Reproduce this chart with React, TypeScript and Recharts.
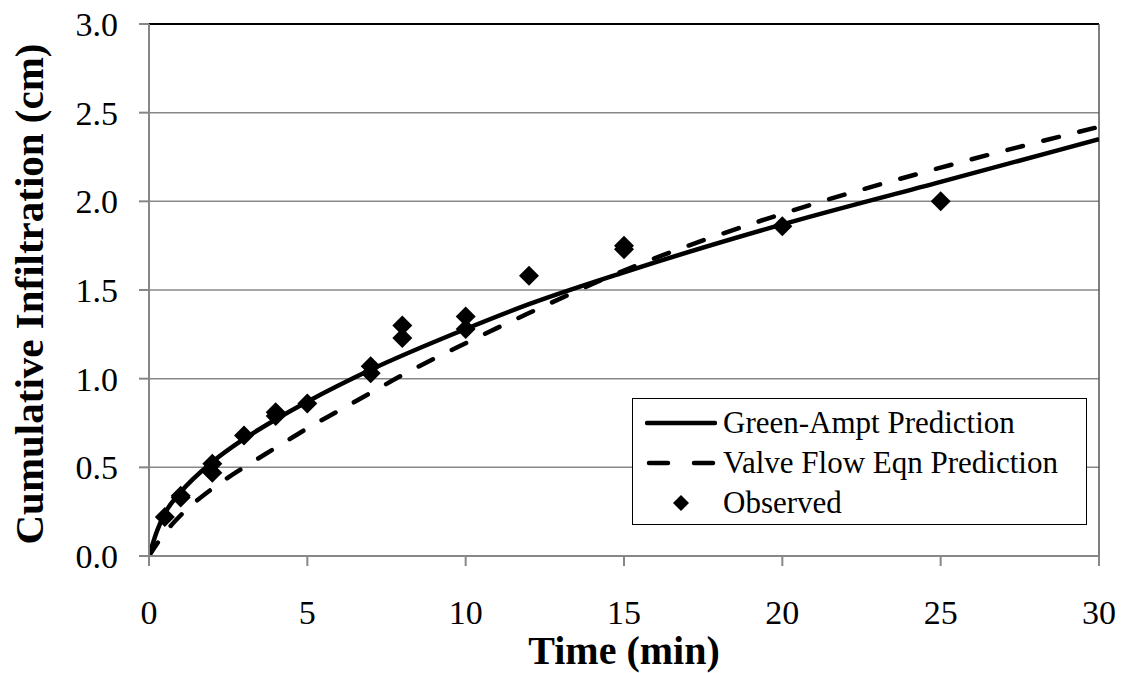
import {
  ComposedChart,
  Line,
  Scatter,
  XAxis,
  YAxis,
  CartesianGrid,
  Legend,
  ReferenceLine,
} from 'recharts';

const gaTime = [0, 0.25, 0.5, 1, 2, 3, 4, 5, 7, 10, 12, 15, 20, 25, 30];
const gaInfil = [0, 0.14, 0.24, 0.36, 0.53, 0.66, 0.77, 0.87, 1.05, 1.28, 1.42, 1.6, 1.87, 2.11, 2.35];

const vfTime = [0, 0.5, 1, 2, 3, 4, 5, 6, 7, 8, 10, 12, 15, 20, 25, 30];
const vfInfil = [0, 0.13, 0.23, 0.38, 0.5, 0.61, 0.72, 0.82, 0.92, 1.02, 1.2, 1.37, 1.61, 1.93, 2.19, 2.42];

const obsTime = [0.5, 1, 1, 2, 2, 3, 4, 4, 5, 7, 7, 8, 8, 10, 10, 12, 15, 15, 20, 25];
const obsInfil = [0.22, 0.34, 0.33, 0.52, 0.47, 0.68, 0.81, 0.79, 0.86, 1.07, 1.03, 1.3, 1.23, 1.35, 1.28, 1.58, 1.75, 1.73, 1.86, 2.0];

const xTicks = [0, 5, 10, 15, 20, 25, 30];
const yTicks = [0, 0.5, 1, 1.5, 2, 2.5, 3];

const gaData = gaTime.map((t, i) => ({ t, v: gaInfil[i] }));
const vfData = vfTime.map((t, i) => ({ t, v: vfInfil[i] }));
const obsData = obsTime.map((t, i) => ({ t, v: obsInfil[i] }));

const FONT = '"Liberation Serif", "Times New Roman", serif';
const AXIS = '#878787';
const DASH = '16 21';

function Diamond(props: any) {
  const { cx, cy } = props;
  const r = 10;
  return (
    <polygon
      points={`${cx},${cy - r} ${cx + r},${cy} ${cx},${cy + r} ${cx - r},${cy}`}
      fill="#000"
    />
  );
}

function LegendBox() {
  const row = { display: 'flex', alignItems: 'center', height: 40 };
  const txt = { fontSize: 31, fontFamily: FONT, color: '#000', marginLeft: 6 };
  return (
    <div
      style={{
        border: '1.5px solid #000',
        background: '#fff',
        width: 455,
        height: 127,
        boxSizing: 'border-box',
        padding: '4px 0 0 12px',
      }}
    >
      <div style={row}>
        <svg width={72} height={10}>
          <line x1={2} y1={5} x2={70} y2={5} stroke="#000" strokeWidth={4.5} strokeLinecap="round" />
        </svg>
        <span style={txt}>Green-Ampt Prediction</span>
      </div>
      <div style={row}>
        <svg width={72} height={10}>
          <line x1={4} y1={5} x2={68} y2={5} stroke="#000" strokeWidth={4.5} strokeLinecap="round" strokeDasharray="19 26" />
        </svg>
        <span style={txt}>Valve Flow Eqn Prediction</span>
      </div>
      <div style={row}>
        <svg width={72} height={20}>
          <polygon points="36,2 44,10 36,18 28,10" fill="#000" />
        </svg>
        <span style={txt}>Observed</span>
      </div>
    </div>
  );
}

function XTitle(props: any) {
  const { viewBox } = props;
  return (
    <text
      x={viewBox.x + viewBox.width / 2}
      y={viewBox.y + 108}
      textAnchor="middle"
      fontFamily={FONT}
      fontWeight="bold"
      fontSize={40}
      fill="#000"
    >
      Time (min)
    </text>
  );
}

function YTitle(props: any) {
  const { viewBox } = props;
  const x = viewBox.x + 43;
  const y = viewBox.y + viewBox.height / 2 + 4;
  return (
    <text
      x={x}
      y={y}
      transform={`rotate(-90, ${x}, ${y})`}
      textAnchor="middle"
      fontFamily={FONT}
      fontWeight="bold"
      fontSize={41}
      fill="#000"
    >
      Cumulative Infiltration (cm)
    </text>
  );
}

export default function App() {
  return (
    <div style={{ width: 1121, height: 673 }}>
      <style>
        {'html, body { margin: 0; overflow: hidden; } .recharts-surface { overflow: visible; }'}
      </style>
      <ComposedChart
        width={1121}
        height={673}
        margin={{ top: 24, right: 22, left: 0, bottom: 0 }}
        style={{ fontFamily: FONT }}
      >
        <CartesianGrid vertical={false} stroke={AXIS} strokeWidth={1.5} />
        <XAxis
          type="number"
          dataKey="t"
          domain={[0, 30]}
          ticks={xTicks}
          height={117}
          stroke={AXIS}
          strokeWidth={2}
          tickSize={10}
          tickMargin={34}
          tick={{ fill: '#000', fontSize: 34, fontFamily: FONT }}
          label={<XTitle />}
          allowDataOverflow
        />
        <YAxis
          type="number"
          dataKey="v"
          domain={[0, 3]}
          ticks={yTicks}
          width={149}
          stroke={AXIS}
          strokeWidth={2}
          tickSize={10}
          tickMargin={21}
          tickFormatter={(v: number) => v.toFixed(1)}
          tick={{ fill: '#000', fontSize: 34, fontFamily: FONT }}
          label={<YTitle />}
          allowDataOverflow
        />
        <ReferenceLine y={3} stroke="#000" strokeWidth={2} />
        <ReferenceLine x={30} stroke="#555" strokeWidth={1.5} />
        <Line
          data={gaData}
          dataKey="v"
          type="monotone"
          stroke="#000"
          strokeWidth={4.5}
          dot={false}
          activeDot={false}
          isAnimationActive={false}
          name="Green-Ampt Prediction"
        />
        <Line
          data={vfData}
          dataKey="v"
          type="monotone"
          stroke="#000"
          strokeWidth={4.5}
          strokeDasharray={DASH}
          strokeLinecap="round"
          dot={false}
          activeDot={false}
          isAnimationActive={false}
          name="Valve Flow Eqn Prediction"
        />
        <Scatter
          data={obsData}
          dataKey="v"
          shape={<Diamond />}
          isAnimationActive={false}
          name="Observed"
        />
        <Legend
          layout="vertical"
          align="center"
          verticalAlign="middle"
          content={<LegendBox />}
          wrapperStyle={{ left: 632, top: 398, width: 457, height: 129 }}
        />
      </ComposedChart>
    </div>
  );
}
